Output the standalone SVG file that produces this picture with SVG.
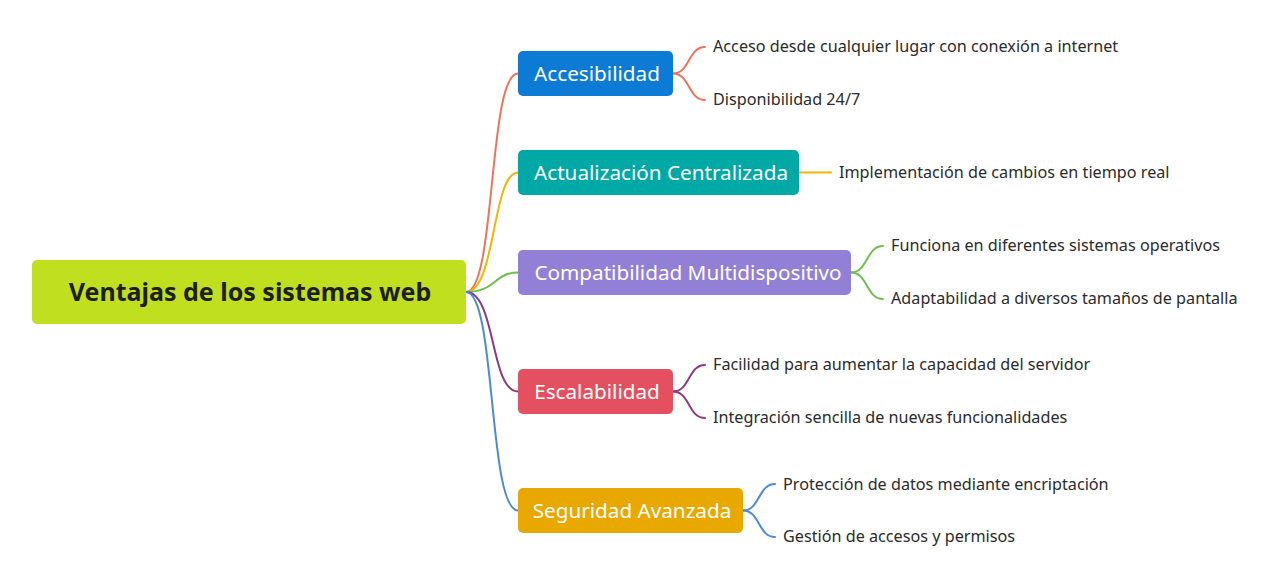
<svg xmlns="http://www.w3.org/2000/svg" width="1280" height="584" viewBox="0 0 1280 584">
<style>
.node rect{rx:5px;ry:5px}
.root text{font-family:"Noto Sans","Open Sans",sans-serif;font-weight:bold;font-size:25px;fill:#1e1e1e;text-anchor:middle}
.branch text{font-family:"Noto Sans","Open Sans",sans-serif;font-size:20.7px;fill:#ffffff;text-anchor:middle}
.leaf text{font-family:"Noto Sans","Open Sans",sans-serif;font-size:16.2px;fill:#2b2b2b}
.c{fill:none;stroke-width:2;stroke-linecap:round}
</style>
<rect width="1280" height="584" fill="#ffffff"/>
<g id="connectors">
  <path class="c" stroke="#F0705A" d="M466,292 C496,292 488,73.5 518,73.5"/>
  <path class="c" stroke="#F6B400" d="M466,292 C496,292 492,172.5 518,172.5"/>
  <path class="c" stroke="#6CC04A" d="M466,292 C496,292 494,272.5 518,272.5"/>
  <path class="c" stroke="#8B3A80" d="M466,292 C496,292 490,391.5 518,391.5"/>
  <path class="c" stroke="#4A8AD8" d="M466,292 C496,292 488,510.5 518,510.5"/>
  <path class="c" stroke="#F0705A" d="M673,73.5 C690,73.5 688,47 705,47"/>
  <path class="c" stroke="#F0705A" d="M673,73.5 C690,73.5 688,100 705,100"/>
  <path class="c" stroke="#F6B400" d="M799,172.5 L831,172.5"/>
  <path class="c" stroke="#6CC04A" d="M851,272.5 C868,272.5 866,246 883,246"/>
  <path class="c" stroke="#6CC04A" d="M851,272.5 C868,272.5 866,299 883,299"/>
  <path class="c" stroke="#8B3A80" d="M673,391.5 C690,391.5 688,365 705,365"/>
  <path class="c" stroke="#8B3A80" d="M673,391.5 C690,391.5 688,418 705,418"/>
  <path class="c" stroke="#4A8AD8" d="M743,510.5 C760,510.5 758,484 775,484"/>
  <path class="c" stroke="#4A8AD8" d="M743,510.5 C760,510.5 758,537 775,537"/>
</g>
<g id="root" class="node root">
  <rect x="32" y="260" width="434" height="64" fill="#C0E01F"/>
  <text x="250" y="301">Ventajas de los sistemas web</text>
</g>
<g id="accesibilidad" class="node branch">
  <rect x="518" y="51" width="155" height="45" fill="#0B7BD5"/>
  <text x="597" y="80.5">Accesibilidad</text>
</g>
<g id="actualizacion" class="node branch">
  <rect x="518" y="150" width="281" height="45" fill="#00A8A6"/>
  <text x="661" y="179.5">Actualización Centralizada</text>
</g>
<g id="compatibilidad" class="node branch">
  <rect x="518" y="250" width="333" height="45" fill="#9180D6"/>
  <text x="688" y="279.5">Compatibilidad Multidispositivo</text>
</g>
<g id="escalabilidad" class="node branch">
  <rect x="518" y="369" width="155" height="45" fill="#E4505F"/>
  <text x="597" y="398.5">Escalabilidad</text>
</g>
<g id="seguridad" class="node branch">
  <rect x="518" y="488" width="225" height="45" fill="#E9A800"/>
  <text x="632" y="517.5">Seguridad Avanzada</text>
</g>
<g id="leaf-acceso" class="node leaf"><text x="713" y="52">Acceso desde cualquier lugar con conexión a internet</text></g>
<g id="leaf-disponibilidad" class="node leaf"><text x="713" y="105">Disponibilidad 24/7</text></g>
<g id="leaf-implementacion" class="node leaf"><text x="839" y="178">Implementación de cambios en tiempo real</text></g>
<g id="leaf-funciona" class="node leaf"><text x="891" y="251">Funciona en diferentes sistemas operativos</text></g>
<g id="leaf-adaptabilidad" class="node leaf"><text x="891" y="304">Adaptabilidad a diversos tamaños de pantalla</text></g>
<g id="leaf-facilidad" class="node leaf"><text x="713" y="370">Facilidad para aumentar la capacidad del servidor</text></g>
<g id="leaf-integracion" class="node leaf"><text x="713" y="423">Integración sencilla de nuevas funcionalidades</text></g>
<g id="leaf-proteccion" class="node leaf"><text x="783" y="490">Protección de datos mediante encriptación</text></g>
<g id="leaf-gestion" class="node leaf"><text x="783" y="542">Gestión de accesos y permisos</text></g>
</svg>
